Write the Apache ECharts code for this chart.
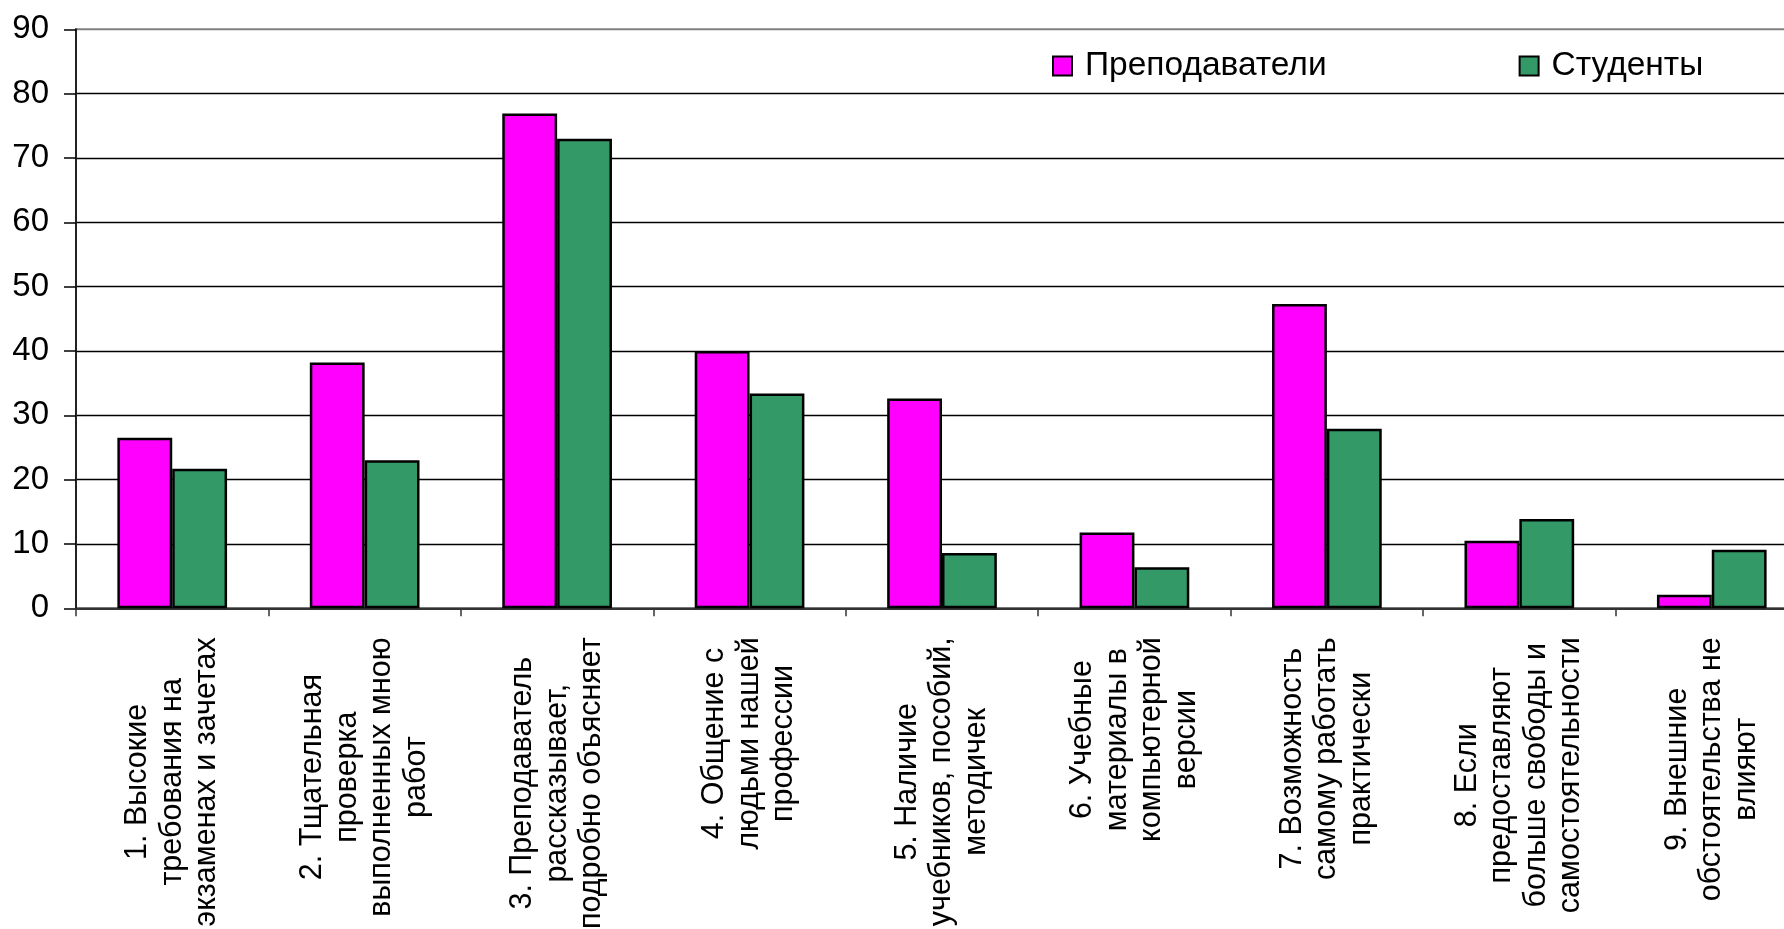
<!DOCTYPE html>
<html>
<head>
<meta charset="utf-8">
<script src="https://cdn.jsdelivr.net/npm/echarts@6/dist/echarts.min.js"></script>
<style>
html,body{margin:0;padding:0;background:#fff;}
#chart{width:1784px;height:929px;}
</style>
</head>
<body>
<div id="chart"></div>
<script>
const categories = [
  "1. Высокие\nтребования на\nэкзаменах и зачетах",
  "2. Тщательная\nпроверка\nвыполненных мною\nработ",
  "3. Преподаватель\nрассказывает,\nподробно объясняет",
  "4. Общение с\nлюдьми нашей\nпрофессии",
  "5. Наличие\nучебников, пособий,\nметодичек",
  "6. Учебные\nматериалы в\nкомпьютерной\nверсии",
  "7. Возможность\nсамому работать\nпрактически",
  "8. Если\nпредоставляют\nбольше свободы и\nсамостоятельности",
  "9. Внешние\nобстоятельства не\nвлияют"
];
const seriesNames = ["Преподаватели", "Студенты"];
const teachers = [26.5, 38.2, 76.9, 40.0, 32.6, 11.8, 47.3, 10.5, 2.1];
const students = [21.7, 23.0, 73.0, 33.4, 8.6, 6.4, 27.9, 13.9, 9.1];
const yTicks = { min: 0, max: 90, interval: 10 };

const FONT = '"Liberation Sans", Arial, sans-serif';
const chart = echarts.init(document.getElementById('chart'), null, { renderer: 'canvas' });
chart.setOption({
  animation: false,
  backgroundColor: '#ffffff',
  grid: {
    left: 76, right: -24, top: 29.3, bottom: 320.7,
    outerBoundsMode: 'none', containLabel: false,
    show: true, borderColor: '#808080', borderWidth: 2, backgroundColor: 'transparent'
  },
  legend: {
    left: 1052, top: 49, padding: 0,
    itemWidth: 19, itemHeight: 19, itemGap: 192,
    icon: 'rect',
    textStyle: { fontFamily: FONT, fontSize: 33.5, color: '#000', padding: [0, 0, 0, 8] },
    data: seriesNames
  },
  xAxis: {
    type: 'category',
    data: categories,
    axisLine: { lineStyle: { color: '#333', width: 2 } },
    axisTick: { show: true, length: 8, lineStyle: { color: '#333', width: 1.5 } },
    axisLabel: {
      interval: 0, rotate: 90, margin: 29,
      fontFamily: FONT, fontSize: 30.5, color: '#000',
      formatter: function (v) { return v.split('\n').map(l => '{c|' + l + '}').join('\n'); },
      rich: { c: { align: 'center', fontFamily: FONT, fontSize: 30.5, lineHeight: 34.5, color: '#000' } }
    }
  },
  yAxis: {
    type: 'value',
    min: yTicks.min, max: yTicks.max, interval: yTicks.interval,
    axisLine: { show: true, lineStyle: { color: '#222', width: 2 } },
    axisTick: { show: true, length: 12, lineStyle: { color: '#000', width: 1.5 } },
    axisLabel: { fontFamily: FONT, fontSize: 33, color: '#000', margin: 27 },
    splitLine: { show: true, showMaxLine: false, lineStyle: { color: '#000', width: 1.3 } }
  },
  series: [
    {
      name: seriesNames[0], type: 'bar', data: teachers,
      barGap: '0%', barCategoryGap: '43%',
      itemStyle: { color: '#ff00ff', borderColor: '#000', borderWidth: 2.5 }
    },
    {
      name: seriesNames[1], type: 'bar', data: students,
      barGap: '0%', barCategoryGap: '43%',
      itemStyle: { color: '#339966', borderColor: '#000', borderWidth: 2.5 }
    }
  ]
});
</script>
</body>
</html>
